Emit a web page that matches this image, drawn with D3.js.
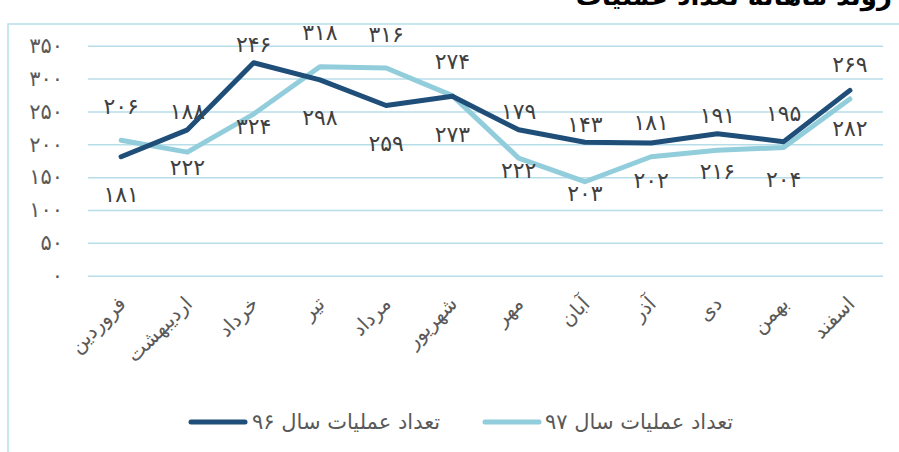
<!DOCTYPE html>
<html><head><meta charset="utf-8">
<script src="https://cdn.jsdelivr.net/npm/d3@7"></script>
<style>
body{margin:0;background:#fff;}
svg{display:block;font-family:"DejaVu Sans",sans-serif;}
</style></head>
<body><svg id="c" width="899" height="452"></svg>
<script>
const months = ["فروردین","اردیبهشت","خرداد","تیر","مرداد","شهریور","مهر","آبان","آذر","دی","بهمن","اسفند"];
const ops96 = [181,222,324,298,259,273,222,203,202,216,204,282];
const ops97 = [206,188,246,318,316,274,179,143,181,191,195,269];
const yTicks = [0,50,100,150,200,250,300,350];
const seriesNames = ["تعداد عملیات سال ۹۶","تعداد عملیات سال ۹۷"];
const title = "روند ماهانه تعداد عملیات";

const fa = n => String(n).replace(/\d/g, d => "۰۱۲۳۴۵۶۷۸۹"[d]);
const C96 = "#1f4e79", C97 = "#92cddc", GRID = "#b7dee8", TXT = "#595959";

const svg = d3.select("#c");
// frame
svg.append("rect").attr("x",8).attr("y",24).attr("width",1000).attr("height",600)
  .attr("fill","none").attr("stroke",GRID).attr("stroke-width",1.5);
// title (cut off at top, as in the source)
svg.append("text").attr("x",892).attr("y",5).attr("text-anchor","end")
  .attr("font-size",26).attr("font-weight","bold").attr("fill","#000").text(title);

const x = d3.scaleBand().domain(months).range([88,883]);
const cx = m => x(m) + x.bandwidth()/2;
const y = d3.scaleLinear().domain([0,350]).range([275.7,45.7]);

// grid + y labels
const ga = svg.append("g").attr("transform","translate(88,0)")
  .call(d3.axisLeft(y).tickValues(yTicks).tickSize(-795).tickPadding(25).tickFormat(fa));
ga.select(".domain").remove();
ga.selectAll(".tick line").attr("stroke",GRID).attr("stroke-width",1.5);
ga.selectAll(".tick text").attr("fill",TXT).attr("font-size",21).attr("letter-spacing",3)
  .attr("font-family","DejaVu Sans");

// x labels
svg.append("g").selectAll("text").data(months).join("text")
  .attr("transform", d => `translate(${cx(d)+6},${305}) rotate(-45)`)
  .attr("text-anchor","end").attr("fill",TXT).attr("font-size",20).text(d => d);

const line = d3.line().x((d,i)=>cx(months[i])).y(d=>y(d));
svg.append("path").datum(ops97).attr("d",line).attr("fill","none").attr("stroke",C97)
  .attr("stroke-width",5).attr("stroke-linejoin","round").attr("stroke-linecap","round");
svg.append("path").datum(ops96).attr("d",line).attr("fill","none").attr("stroke",C96)
  .attr("stroke-width",5).attr("stroke-linejoin","round").attr("stroke-linecap","round");

// data labels: 96 below, 97 above (kept clear of the other line)
const lab = svg.append("g").attr("fill","#404040").attr("font-size",22).attr("letter-spacing",2)
  .attr("text-anchor","middle").attr("dominant-baseline","central");
lab.selectAll(".l96").data(ops96).join("text").attr("class","l96")
  .attr("x",(d,i)=>cx(months[i])).attr("y",(d,i)=>Math.max(y(d)+38, y(ops97[i])+12)).text(fa);
lab.selectAll(".l97").data(ops97).join("text").attr("class","l97")
  .attr("x",(d,i)=>cx(months[i])).attr("y",(d,i)=>Math.min(y(d)-34, y(ops96[i])-18)).text(fa);

// legend
const leg = svg.append("g");
const items = [{n:seriesNames[0],c:C96,x0:191,tx:252},{n:seriesNames[1],c:C97,x0:485,tx:545}];
items.forEach(it=>{
  leg.append("line").attr("x1",it.x0).attr("x2",it.x0+54).attr("y1",422).attr("y2",422)
    .attr("stroke",it.c).attr("stroke-width",5).attr("stroke-linecap","round");
  leg.append("text").attr("x",it.tx).attr("y",422).attr("dominant-baseline","central")
    .attr("text-anchor","start").attr("fill",TXT).attr("font-size",21).text(it.n);
});
</script></body></html>
